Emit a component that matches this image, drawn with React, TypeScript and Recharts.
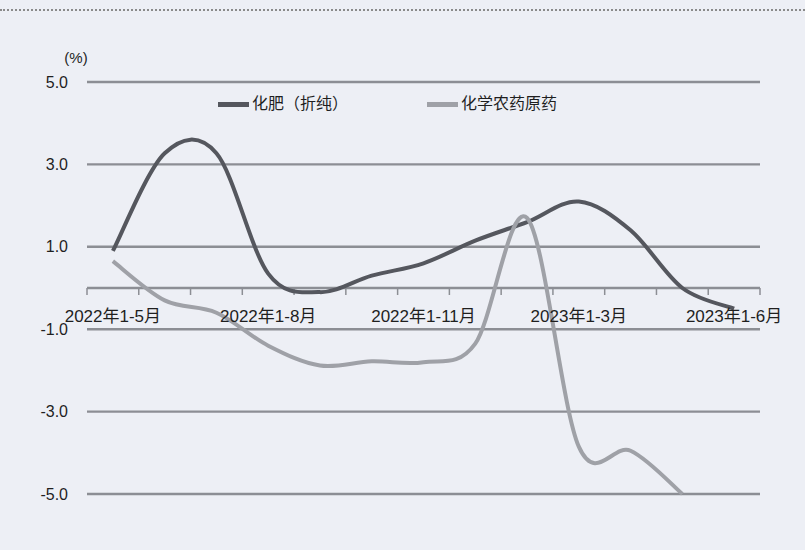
import React from 'react';
import {
  LineChart,
  Line,
  XAxis,
  YAxis,
  CartesianGrid,
  Legend,
  ReferenceLine,
  ReferenceDot,
} from 'recharts';

// 统计期 (2022年1-5月 ~ 2023年1-6月)
const periods = [
  '2022年1-5月', '2022年1-6月', '2022年1-7月', '2022年1-8月', '2022年1-9月',
  '2022年1-10月', '2022年1-11月', '2022年1-12月', '2023年1-2月', '2023年1-3月',
  '2023年1-4月', '2023年1-5月', '2023年1-6月',
];
const shownPeriods = ['2022年1-5月', '2022年1-8月', '2022年1-11月', '2023年1-3月', '2023年1-6月'];

// 产量同比增速 (%)
const fertilizer = [0.9, 3.27, 3.27, 0.35, -0.1, 0.3, 0.6, 1.15, 1.6, 2.1, 1.4, 0.0, -0.5];
const pesticide = [0.65, -0.3, -0.6, -1.4, -1.88, -1.78, -1.8, -1.35, 1.7, -3.85, -3.95, -5.0, null];

const yTicks = [5, 3, 1, -1, -3, -5];

const FERT_COLOR = '#55575e';
const PEST_COLOR = '#9fa1a7';
const GRID_COLOR = '#8c8e94';
const TEXT_COLOR = '#1f1f1f';
const FONT = '"Liberation Sans", Arial, "Noto Sans CJK SC", sans-serif';

const data = periods.map((p, i) => ({
  idx: i,
  period: p,
  fertilizer: fertilizer[i],
  pesticide: pesticide[i],
}));

// category boundaries for the small tick marks on the zero axis
const boundaries = [...periods.map((_, i) => i - 0.5), periods.length - 0.5];

// Excel-style smoothed line (Catmull-Rom through every point)
const smoothCurve = (context: any) => {
  let pts: number[][] = [];
  return {
    areaStart() {},
    areaEnd() {},
    lineStart() {
      pts = [];
    },
    point(x: number, y: number) {
      pts.push([+x, +y]);
    },
    lineEnd() {
      if (!pts.length) return;
      context.moveTo(pts[0][0], pts[0][1]);
      for (let i = 0; i < pts.length - 1; i++) {
        const p0 = pts[i - 1] || pts[i];
        const p1 = pts[i];
        const p2 = pts[i + 1];
        const p3 = pts[i + 2] || p2;
        context.bezierCurveTo(
          p1[0] + (p2[0] - p0[0]) / 6,
          p1[1] + (p2[1] - p0[1]) / 6,
          p2[0] - (p3[0] - p1[0]) / 6,
          p2[1] - (p3[1] - p1[1]) / 6,
          p2[0],
          p2[1]
        );
      }
    },
  };
};

const renderLegend = () => (
  <div
    style={{
      display: 'flex',
      alignItems: 'center',
      fontSize: 16,
      lineHeight: '20px',
      color: TEXT_COLOR,
      fontFamily: FONT,
      whiteSpace: 'nowrap',
    }}
  >
    <span style={{ display: 'inline-block', width: 31, height: 5, background: FERT_COLOR }} />
    <span style={{ marginLeft: 3 }}>化肥（折纯）</span>
    <span style={{ display: 'inline-block', width: 31, height: 5, background: PEST_COLOR, marginLeft: 79 }} />
    <span style={{ marginLeft: 3 }}>化学农药原药</span>
  </div>
);

const renderUnit = (props: any) => {
  const vb = props.viewBox;
  return (
    <text x={vb.x + vb.width - 11} y={vb.y - 19} textAnchor="middle" fontSize={15} fill={TEXT_COLOR} fontFamily={FONT}>
      (%)
    </text>
  );
};

export default function App() {
  return (
    <div
      style={{
        position: 'absolute',
        left: 0,
        top: 0,
        width: 805,
        height: 550,
        background: '#edeff5',
        fontFamily: FONT,
      }}
    >
      <div style={{ position: 'absolute', left: 0, top: 9, width: 805, borderTop: '2px dotted #8a8a8a' }} />
      <LineChart width={805} height={550} data={data} margin={{ top: 82, right: 45, bottom: 56, left: 0 }}>
        <CartesianGrid vertical={false} stroke={GRID_COLOR} strokeWidth={2.4} />
        <XAxis type="number" dataKey="idx" domain={[-0.5, periods.length - 0.5]} hide />
        <YAxis
          domain={[-5, 5]}
          ticks={yTicks}
          interval={0}
          width={87}
          axisLine={false}
          tickLine={false}
          tickMargin={13}
          tick={{ fill: TEXT_COLOR, fontSize: 16, fontFamily: FONT }}
          tickFormatter={(v: number) => v.toFixed(1)}
          label={renderUnit}
        />
        <ReferenceLine y={0} stroke={GRID_COLOR} strokeWidth={2.5} />
        {boundaries.map((b) => (
          <ReferenceLine
            key={b}
            segment={[{ x: b, y: 0 }, { x: b, y: -0.17 }]}
            stroke={GRID_COLOR}
            strokeWidth={1.5}
            ifOverflow="visible"
          />
        ))}
        {shownPeriods.map((p) => (
          <ReferenceDot
            key={p}
            x={periods.indexOf(p)}
            y={0}
            r={0}
            fill="none"
            stroke="none"
            label={{ value: p, position: 'bottom', offset: 22, fill: TEXT_COLOR, fontSize: 17, fontFamily: FONT }}
          />
        ))}
        <Legend
          content={renderLegend}
          layout="vertical"
          align="center"
          verticalAlign="middle"
          wrapperStyle={{ top: 94, left: 218, width: 'auto', height: 20 }}
        />
        <Line
          dataKey="fertilizer"
          name="化肥（折纯）"
          type={smoothCurve as any}
          stroke={FERT_COLOR}
          strokeWidth={4}
          dot={false}
          activeDot={false}
          isAnimationActive={false}
        />
        <Line
          dataKey="pesticide"
          name="化学农药原药"
          type={smoothCurve as any}
          stroke={PEST_COLOR}
          strokeWidth={4}
          dot={false}
          activeDot={false}
          isAnimationActive={false}
        />
      </LineChart>
    </div>
  );
}
